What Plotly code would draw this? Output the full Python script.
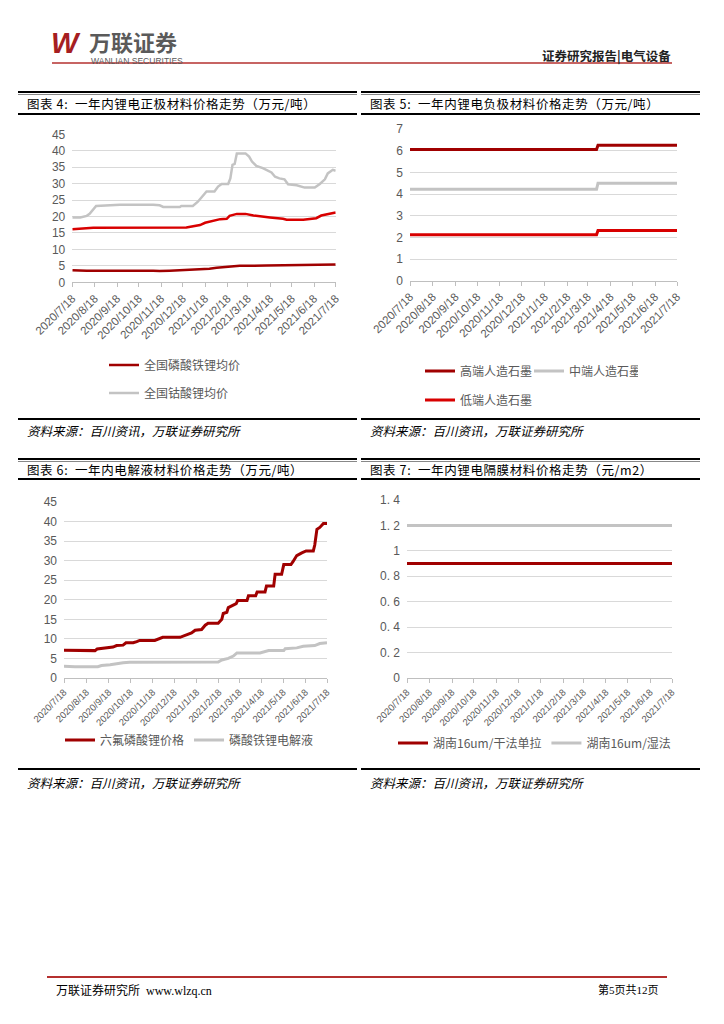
import plotly.graph_objects as go

W, H = 724, 1024

# ---------------- data ----------------
tick_dates = ['2020-07-18', '2020-08-18', '2020-09-18', '2020-10-18', '2020-11-18', '2020-12-18',
              '2021-01-18', '2021-02-18', '2021-03-18', '2021-04-18', '2021-05-18', '2021-06-18', '2021-07-18']
tick_labels = ['2020/7/18', '2020/8/18', '2020/9/18', '2020/10/18', '2020/11/18', '2020/12/18',
               '2021/1/18', '2021/2/18', '2021/3/18', '2021/4/18', '2021/5/18', '2021/6/18', '2021/7/18']

# Chart 4: cathode materials
c4_lfp_dates = ['2020-07-18', '2020-08-07', '2020-11-07', '2020-11-16', '2020-11-30', '2020-12-28',
                '2021-01-06', '2021-01-24', '2021-02-03', '2021-02-26', '2021-03-07', '2021-04-13',
                '2021-06-03', '2021-06-26', '2021-07-18']
c4_lfp_vals = [3.7, 3.5, 3.5, 3.4, 3.5, 3.7, 3.9, 4.1, 4.4, 4.7, 5.0, 5.1, 5.2, 5.3, 5.4]

c4_ncm_dates = ['2020-07-18', '2020-08-16', '2020-12-23', '2021-01-01', '2021-01-11', '2021-01-18',
                '2021-01-29', '2021-02-08', '2021-02-17', '2021-02-21', '2021-03-03', '2021-03-15',
                '2021-03-26', '2021-04-04', '2021-04-18', '2021-05-06', '2021-05-11', '2021-06-03',
                '2021-06-12', '2021-06-21', '2021-06-28', '2021-07-07', '2021-07-18']
c4_ncm_vals = [16.1, 16.6, 16.7, 17.1, 17.4, 18.1, 18.6, 19.2, 19.3, 20.2, 20.8, 20.8,
               20.3, 20.0, 19.7, 19.3, 19.0, 19.0, 19.3, 19.5, 20.3, 20.8, 21.2]

c4_lco_dates = ['2020-07-18', '2020-07-29', '2020-08-07', '2020-08-11', '2020-08-20', '2020-09-08',
                '2020-09-22', '2020-11-07', '2020-11-16', '2020-11-21', '2020-12-14', '2020-12-16',
                '2021-01-01', '2021-01-08', '2021-01-14', '2021-01-20', '2021-01-31', '2021-02-05',
                '2021-02-10', '2021-02-19', '2021-02-22', '2021-02-25', '2021-02-28', '2021-03-03',
                '2021-03-15', '2021-03-20', '2021-03-24', '2021-03-30', '2021-04-08', '2021-04-15',
                '2021-04-20', '2021-04-25', '2021-05-01', '2021-05-08', '2021-05-13', '2021-05-25',
                '2021-06-01', '2021-06-05', '2021-06-19', '2021-06-26', '2021-07-03', '2021-07-07',
                '2021-07-14', '2021-07-18']
c4_lco_vals = [19.7, 19.7, 20.2, 20.8, 23.2, 23.4, 23.6, 23.6, 23.4, 22.9, 22.9, 23.2,
               23.2, 24.5, 26.2, 27.6, 27.6, 29.1, 29.9, 29.9, 31.6, 35.7, 36.0, 39.2,
               39.2, 38.2, 36.7, 35.4, 34.7, 34.0, 33.4, 32.1, 31.6, 31.3, 29.8, 29.5,
               29.1, 28.8, 28.8, 29.9, 31.3, 33.1, 34.2, 33.9]

# Chart 5: anode materials
c5_dates = ['2020-07-18', '2021-03-30', '2021-04-01', '2021-07-18']
c5_high = [6.05, 6.05, 6.25, 6.25]
c5_mid = [4.22, 4.22, 4.5, 4.5]
c5_low = [2.12, 2.12, 2.32, 2.32]

# Chart 6: electrolyte
c6_lipf6_dates = ['2020-07-18', '2020-08-02', '2020-08-30', '2020-09-02', '2020-09-13', '2020-09-17',
                  '2020-09-24', '2020-09-29', '2020-10-08', '2020-10-12', '2020-10-22', '2020-10-27',
                  '2020-10-31', '2020-11-21', '2020-11-26', '2020-12-02', '2020-12-26', '2020-12-31',
                  '2021-01-06', '2021-01-11', '2021-01-16', '2021-01-25', '2021-01-30', '2021-02-03',
                  '2021-02-17', '2021-02-22', '2021-02-24', '2021-03-01', '2021-03-03', '2021-03-08',
                  '2021-03-14', '2021-03-16', '2021-03-29', '2021-03-31', '2021-04-10', '2021-04-12',
                  '2021-04-23', '2021-04-25', '2021-05-05', '2021-05-07', '2021-05-16', '2021-05-19',
                  '2021-05-29', '2021-06-01', '2021-06-06', '2021-06-13', '2021-06-19', '2021-06-29',
                  '2021-07-01', '2021-07-04', '2021-07-08', '2021-07-13', '2021-07-18']
c6_lipf6_vals = [7.1, 7.0, 7.0, 7.4, 7.6, 7.8, 7.9, 8.3, 8.4, 9.0, 9.0, 9.3,
                 9.6, 9.6, 10.0, 10.4, 10.4, 10.7, 11.0, 11.5, 12.2, 12.4, 13.5, 14.0,
                 14.0, 15.0, 16.5, 16.8, 18.0, 18.5, 19.0, 19.8, 19.8, 21.0, 21.0, 22.0,
                 22.0, 23.5, 23.5, 26.5, 26.5, 29.0, 29.0, 29.8, 31.3, 32.0, 32.5, 32.5,
                 34.0, 38.0, 38.5, 39.5, 39.5]

c6_lfpe_dates = ['2020-07-18', '2020-08-02', '2020-09-03', '2020-09-08', '2020-09-20', '2020-09-29',
                 '2020-10-08', '2020-10-17', '2020-11-19', '2020-11-28', '2021-02-17', '2021-02-22',
                 '2021-03-03', '2021-03-10', '2021-03-15', '2021-04-16', '2021-04-21', '2021-04-28',
                 '2021-05-19', '2021-05-21', '2021-06-06', '2021-06-15', '2021-07-01', '2021-07-08',
                 '2021-07-18']
c6_lfpe_vals = [3.0, 2.9, 2.9, 3.2, 3.4, 3.7, 3.9, 4.0, 4.0, 4.1, 4.1, 4.6,
                5.0, 5.6, 6.4, 6.4, 6.7, 7.0, 7.0, 7.5, 7.7, 8.1, 8.3, 8.8, 9.0]

# Chart 7: separator
c7_dates = tick_dates
c7_dry = [0.9] * 13
c7_wet = [1.2] * 13

# ---------------- helpers ----------------
def px(x):
    return x / W


def py(y):
    return 1 - y / H


TICK_FONT = 'Liberation Sans, Arial, sans-serif'
CJK = 'Noto Sans CJK SC, sans-serif'
GRAY_TXT = '#595959'
DARK_RED = '#A00000'
RED = '#D80000'
GRAY = '#C3C3C3'


def xaxis(x0, x1, anchor, fsize):
    return dict(domain=[px(x0), px(x1)], anchor=anchor, type='date', automargin=False,
                range=['2020-07-18', '2021-07-18'], tickvals=tick_dates, ticktext=tick_labels,
                tickangle=-45, ticks='outside', ticklen=4, tickcolor='#BFBFBF', tickwidth=1,
                showline=True, linecolor='#BFBFBF', linewidth=1, showgrid=False, zeroline=False,
                tickfont=dict(family=TICK_FONT, size=fsize, color=GRAY_TXT), fixedrange=True)


def yaxis(ytop, ybot, anchor, rng, dtick, fsize=12, **kw):
    d = dict(domain=[py(ybot), py(ytop)], anchor=anchor, range=rng, dtick=dtick, automargin=False,
             showgrid=True, gridcolor='#D9D9D9', gridwidth=1, zeroline=False, showline=False,
             ticks='', ticklabelstandoff=6,
             tickfont=dict(family=TICK_FONT, size=fsize, color=GRAY_TXT), fixedrange=True)
    d.update(kw)
    return d


fig = go.Figure()

# chart 4
fig.add_trace(go.Scatter(x=c4_lfp_dates, y=c4_lfp_vals, mode='lines', name='全国磷酸铁锂均价',
                         line=dict(color=DARK_RED, width=2.5), xaxis='x', yaxis='y', legend='legend'))
fig.add_trace(go.Scatter(x=c4_ncm_dates, y=c4_ncm_vals, mode='lines', name='三元材料均价',
                         line=dict(color=RED, width=2.5), xaxis='x', yaxis='y', showlegend=False))
fig.add_trace(go.Scatter(x=c4_lco_dates, y=c4_lco_vals, mode='lines', name='全国钴酸锂均价',
                         line=dict(color=GRAY, width=2.5), xaxis='x', yaxis='y', legend='legend2'))

# chart 5
fig.add_trace(go.Scatter(x=c5_dates, y=c5_high, mode='lines', name='高端人造石墨',
                         line=dict(color=DARK_RED, width=3), xaxis='x2', yaxis='y2', legend='legend3'))
fig.add_trace(go.Scatter(x=c5_dates, y=c5_mid, mode='lines', name='中端人造石墨',
                         line=dict(color=GRAY, width=3), xaxis='x2', yaxis='y2', legend='legend3'))
fig.add_trace(go.Scatter(x=c5_dates, y=c5_low, mode='lines', name='低端人造石墨',
                         line=dict(color=RED, width=3), xaxis='x2', yaxis='y2', legend='legend4'))

# chart 6
fig.add_trace(go.Scatter(x=c6_lipf6_dates, y=c6_lipf6_vals, mode='lines', name='六氟磷酸锂价格',
                         line=dict(color=DARK_RED, width=3), xaxis='x3', yaxis='y3', legend='legend5'))
fig.add_trace(go.Scatter(x=c6_lfpe_dates, y=c6_lfpe_vals, mode='lines', name='磷酸铁锂电解液',
                         line=dict(color=GRAY, width=3), xaxis='x3', yaxis='y3', legend='legend5'))

# chart 7
fig.add_trace(go.Scatter(x=c7_dates, y=c7_dry, mode='lines', name='湖南16um/干法单拉',
                         line=dict(color=DARK_RED, width=3), xaxis='x4', yaxis='y4', legend='legend6'))
fig.add_trace(go.Scatter(x=c7_dates, y=c7_wet, mode='lines', name='湖南16um/湿法',
                         line=dict(color=GRAY, width=3), xaxis='x4', yaxis='y4', legend='legend6'))


def leg(x, y, orient='h', **kw):
    d = dict(x=px(x), y=py(y), xanchor='left', yanchor='middle', orientation=orient,
             bgcolor='rgba(0,0,0,0)', borderwidth=0, itemclick=False, itemdoubleclick=False,
             font=dict(family=CJK, size=12, color=GRAY_TXT), tracegroupgap=0)
    d.update(kw)
    return d


layout = dict(
    width=W, height=H, margin=dict(l=0, r=0, t=0, b=0, pad=0, autoexpand=False),
    paper_bgcolor='white', plot_bgcolor='white',
    xaxis=xaxis(72.3, 335.7, 'y', 11.5),
    yaxis=yaxis(134.3, 282.3, 'x', [0, 45], 5),
    xaxis2=xaxis(410, 677, 'y2', 11.5),
    yaxis2=yaxis(129, 280.7, 'x2', [0, 7], 1),
    xaxis3=xaxis(64, 327, 'y3', 9.5),
    yaxis3=yaxis(502, 678, 'x3', [0, 45], 5),
    xaxis4=xaxis(407, 672, 'y4', 9.5),
    yaxis4=yaxis(500, 678, 'x4', [0, 1.4], 0.2,
                 tickvals=[0, 0.2, 0.4, 0.6, 0.8, 1.0, 1.2, 1.4],
                 ticktext=['0', '0. 2', '0. 4', '0. 6', '0. 8', '1', '1. 2', '1. 4']),
    legend=leg(104, 365, 'v'),
    legend2=leg(104, 393, 'v'),
    legend3=leg(420, 371, entrywidth=64, entrywidthmode='pixels'),
    legend4=leg(420, 400),
    legend5=leg(60, 740),
    legend6=leg(393, 743),
    showlegend=True,
)
fig.update_layout(**layout)

shapes = []
annotations = []


def hline(x0, x1, y, color='black', width=1):
    shapes.append(dict(type='line', xref='paper', yref='paper', x0=px(x0), x1=px(x1),
                       y0=py(y), y1=py(y), line=dict(color=color, width=width)))


def text(x, y, s, size=12, color='black', anchor='left', family=CJK, **kw):
    annotations.append(dict(xref='paper', yref='paper', x=px(x), y=py(y), text=s, showarrow=False,
                            xanchor=anchor, yanchor='middle', borderpad=0,
                            font=dict(family=family, size=size, color=color, **kw)))


# header
text(50, 43, '<b><i>W</i></b>', size=29, color='#A61E22', family='Liberation Sans, Arial')
text(88, 40.5, '<b>万联证券</b>', size=22, color='#5A5A5A')
text(90, 61, 'WANLIAN SECURITIES', size=8.5, color='#5A5A5A', family='Liberation Sans, Arial')
text(672, 55, '<b>证券研究报告|电气设备</b>', size=12.5, color='#222222', anchor='right')
hline(52, 672, 63, '#B5302F', 1.5)

# title bars
for (xa, xb, yt, yb, ytxt, s) in [
    (18, 357, 92, 114, 103.5, '图表 4:  一年内锂电正极材料价格走势（万元/吨）'),
    (361, 700, 92, 114, 103.5, '图表 5:  一年内锂电负极材料价格走势（万元/吨）'),
    (18, 357, 459, 479, 469.5, '图表 6:  一年内电解液材料价格走势（万元/吨）'),
    (361, 700, 459, 479, 469.5, '图表 7:  一年内锂电隔膜材料价格走势（元/m2）'),
]:
    hline(xa, xb, yt, 'black', 2)
    hline(xa, xb, yt + 2.5, '#888888', 1)
    hline(xa, xb, yb, 'black', 2)
    text(xa + 8, ytxt, '<span style="letter-spacing:0.6px">' + s + '</span>', size=12.5, color='black')

# source lines
for (xa, xb, yl, ytxt) in [(18, 357, 419, 430), (361, 700, 419, 430),
                           (18, 357, 769, 782), (361, 700, 769, 782)]:
    hline(xa, xb, yl, 'black', 2)
    text(xa + 8, ytxt, '资料来源：百川资讯，万联证券研究所', size=12.5, color='black', style='italic')

# footer
hline(47, 667, 977, '#B5302F', 2)
text(55, 990, '万联证券研究所  www.wlzq.cn', size=12, color='black',
     family='Liberation Serif, Noto Sans CJK SC, serif')
text(660, 989, '第5页共12页', size=11, color='black', anchor='right',
     family='Liberation Serif, Noto Sans CJK SC, serif')

fig.update_layout(shapes=shapes, annotations=annotations)

fig.write_html('out.html', config={'displayModeBar': False},
               post_script="document.body.style.margin='0';")
